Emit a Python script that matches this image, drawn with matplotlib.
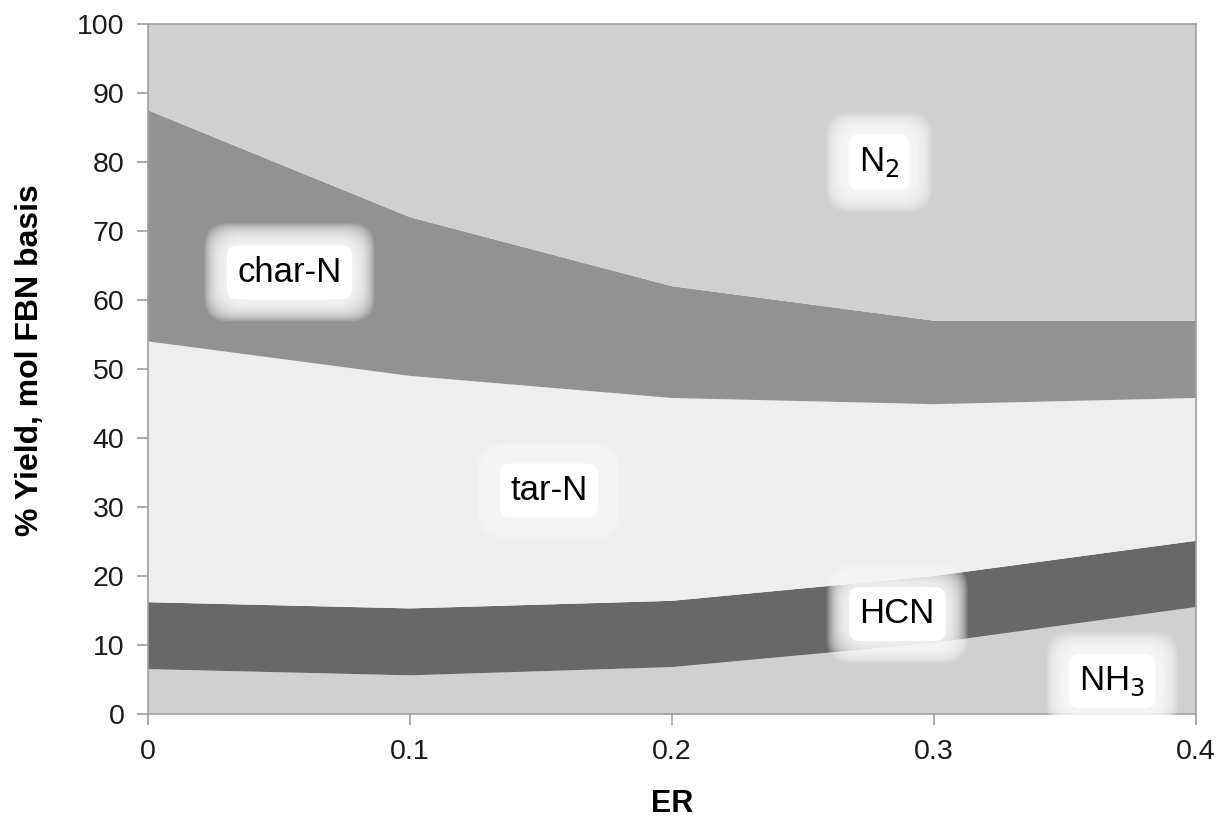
import matplotlib
matplotlib.use('Agg')
import matplotlib.pyplot as plt
import numpy as np

plt.rcParams['font.family'] = ['Liberation Sans', 'DejaVu Sans']

er = [0, 0.1, 0.2, 0.3, 0.4]
nh3 = [6.5, 5.6, 6.8, 10.3, 15.5]
hcn = [9.7, 9.7, 9.6, 9.7, 9.6]
tar_n = [37.8, 33.7, 29.4, 24.9, 20.7]
char_n = [33.5, 23.0, 16.2, 12.1, 11.2]
n2 = [12.5, 28.0, 38.0, 43.3, 43.0]

colors = ['#d0d0d0', '#686868', '#eeeeee', '#929292', '#d0d0d0']

labels = ['N$_2$', 'char-N', 'tar-N', 'HCN', 'NH$_3$']
label_x = [0.279, 0.054, 0.153, 0.286, 0.368]
label_y = [80.0, 64.0, 32.4, 14.5, 4.8]


def glow_text(ax, x, y, s, size=25):
    # soft white halo behind the label: many faint boxes stacked
    pads = np.linspace(0.3, 0.95, 30)
    for pad in pads[::-1]:
        ax.text(x, y, s, ha='center', va='center', fontsize=size, color='none',
                bbox=dict(boxstyle='round,pad=%.3f,rounding_size=0.7' % pad,
                          fc='white', ec='none', alpha=0.09))
    ax.text(x, y, s, ha='center', va='center', fontsize=size, color='none',
            bbox=dict(boxstyle='round,pad=0.3,rounding_size=0.3', fc='white', ec='none'))
    ax.text(x, y, s, ha='center', va='center', fontsize=size, color='black')


fig = plt.figure(figsize=(12.22, 8.22), dpi=100)
ax = fig.add_axes([0.1211, 0.1314, 0.8576, 0.8394])

ax.stackplot(er, nh3, hcn, tar_n, char_n, n2, colors=colors, linewidth=0)

for s, x, y in zip(labels, label_x, label_y):
    glow_text(ax, x, y, s)

ax.set_xlim(0, 0.4)
ax.set_ylim(0, 100)
ax.set_xticks(er)
ax.set_xticklabels(['0', '0.1', '0.2', '0.3', '0.4'])
ax.set_yticks(np.arange(0, 101, 10))

for sp in ax.spines.values():
    sp.set_color('#a0a0a0')
    sp.set_linewidth(1.2)
ax.tick_params(axis='both', colors='#a0a0a0', labelcolor='#1a1a1a', labelsize=20.5,
               length=8, width=1.2)
ax.tick_params(axis='x', pad=10)
ax.tick_params(axis='y', pad=9)

ax.set_xlabel('ER', fontsize=22, fontweight='bold', labelpad=17)
ax.set_ylabel('% Yield, mol FBN basis', fontsize=23, fontweight='bold')
ax.yaxis.set_label_coords(-0.098, 0.513)

fig.savefig('out.png', dpi=100)
